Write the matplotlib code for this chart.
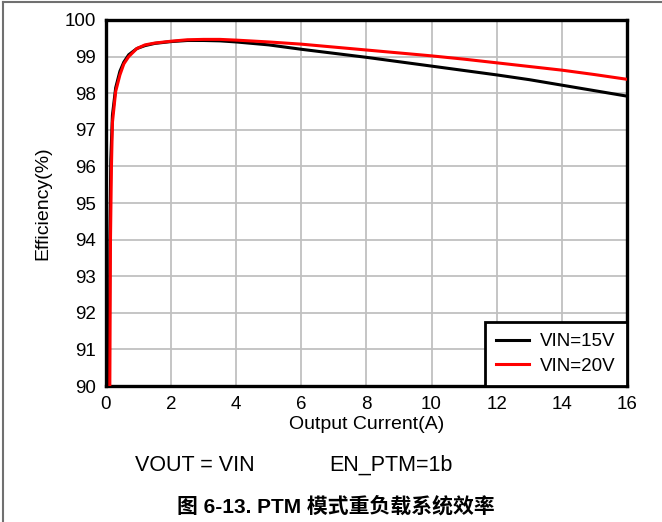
import matplotlib.pyplot as plt
from matplotlib.lines import Line2D

plt.rcParams['font.family'] = ['Liberation Sans', 'Noto Sans CJK SC', 'DejaVu Sans']

# --------------------------------
# Efficiency data (A, %)
# --------------------------------
current_15v = [0.10, 0.12, 0.15, 0.20, 0.30, 0.43, 0.55, 0.70, 0.95, 1.2, 1.5,
               2.0, 2.5, 3.0, 3.5, 4, 5, 6, 7, 8, 9, 10, 11, 12, 13, 14, 15, 16]
eff_15v = [90.0, 94.0, 96.2, 97.4, 98.15, 98.6, 98.85, 99.05, 99.22, 99.30, 99.36,
           99.41, 99.44, 99.44, 99.43, 99.40, 99.32, 99.20, 99.09, 98.98, 98.86,
           98.74, 98.62, 98.50, 98.37, 98.22, 98.07, 97.92]

current_20v = [0.12, 0.14, 0.17, 0.20, 0.30, 0.43, 0.55, 0.70, 0.95, 1.2, 1.5,
               2.0, 2.5, 3.0, 3.5, 4, 5, 6, 7, 8, 9, 10, 11, 12, 13, 14, 15, 16]
eff_20v = [90.0, 94.0, 96.0, 97.2, 98.05, 98.5, 98.8, 99.0, 99.22, 99.32, 99.37,
           99.42, 99.46, 99.47, 99.47, 99.45, 99.40, 99.34, 99.26, 99.18, 99.10,
           99.02, 98.93, 98.83, 98.73, 98.63, 98.51, 98.38]

x_ticks = [0, 2, 4, 6, 8, 10, 12, 14, 16]
y_ticks = [90, 91, 92, 93, 94, 95, 96, 97, 98, 99, 100]

# --------------------------------
# Plot
# --------------------------------
fig = plt.figure(figsize=(6.62, 5.22), dpi=100)
ax = fig.add_axes([0.160, 0.2605, 0.787, 0.7012])

ax.plot(current_15v, eff_15v, color='black', linewidth=2.2, label='VIN=15V', zorder=3)
ax.plot(current_20v, eff_20v, color='#ff0000', linewidth=2.2, label='VIN=20V', zorder=4)

ax.set_xlim(0, 16)
ax.set_ylim(90, 100)
ax.set_xticks(x_ticks)
ax.set_yticks(y_ticks)
ax.tick_params(length=0, labelsize=13.5, pad=7)
ax.grid(True, color='#c0c0c0', linewidth=1.3)
ax.set_axisbelow(True)
for sp in ax.spines.values():
    sp.set_linewidth(2.4)
    sp.set_color('black')

ax.set_xlabel('Output Current(A)', fontsize=14, labelpad=2)
ax.set_ylabel('Efficiency(%)', fontsize=14, labelpad=10)

leg = ax.legend(loc='lower right', fontsize=13.5, fancybox=False, framealpha=1,
                edgecolor='black', borderaxespad=0, handlelength=1.75,
                borderpad=0.6, labelspacing=0.4, handletextpad=0.6)
leg.get_frame().set_linewidth(2.0)

fig.text(0.204, 0.108, 'VOUT = VIN', fontsize=15.5, ha='left', va='center')
fig.text(0.498, 0.108, 'EN_PTM=1b', fontsize=15.5, ha='left', va='center')
fig.text(0.508, 0.030, '图 6-13. PTM 模式重负载系统效率', fontsize=15,
         fontweight='bold', ha='center', va='center')

# page border lines
fig.add_artist(Line2D([0.005, 0.005], [0, 0.996], transform=fig.transFigure,
                      color='#707070', linewidth=1.5))
fig.add_artist(Line2D([0.005, 1], [0.996, 0.996], transform=fig.transFigure,
                      color='#707070', linewidth=1.5))

fig.savefig('out.png', dpi=100)
